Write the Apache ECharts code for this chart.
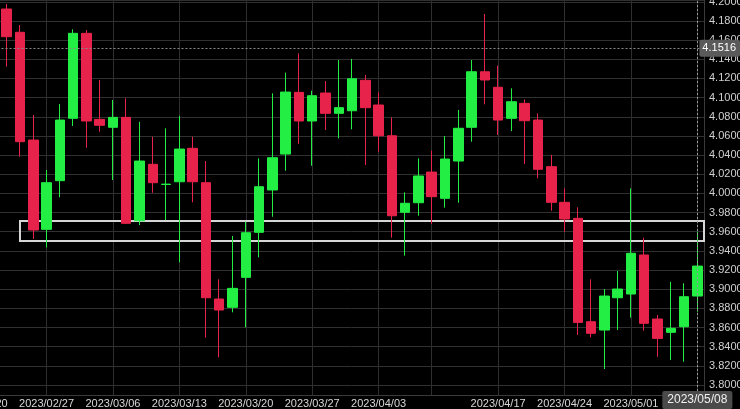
<!DOCTYPE html>
<html>
<head>
<meta charset="utf-8">
<script src="https://cdn.jsdelivr.net/npm/echarts@6/dist/echarts.min.js"></script>
<style>
  html, body { margin: 0; padding: 0; background: #000; }
  #chart { width: 740px; height: 409px; }
</style>
</head>
<body>
<div id="chart"></div>
<script>
// Trading days (categories)
const dates = [
  '2023/02/20','2023/02/21','2023/02/22','2023/02/23','2023/02/24',
  '2023/02/27','2023/02/28','2023/03/01','2023/03/02','2023/03/03',
  '2023/03/06','2023/03/07','2023/03/08','2023/03/09','2023/03/10',
  '2023/03/13','2023/03/14','2023/03/15','2023/03/16','2023/03/17',
  '2023/03/20','2023/03/21','2023/03/22','2023/03/23','2023/03/24',
  '2023/03/27','2023/03/28','2023/03/29','2023/03/30','2023/03/31',
  '2023/04/03','2023/04/04','2023/04/05','2023/04/06',
  '2023/04/10','2023/04/11','2023/04/12','2023/04/13','2023/04/14',
  '2023/04/17','2023/04/18','2023/04/19','2023/04/20','2023/04/21',
  '2023/04/24','2023/04/25','2023/04/26','2023/04/27','2023/04/28',
  '2023/05/01','2023/05/02','2023/05/03','2023/05/04','2023/05/05',
  '2023/05/08'
];
// OHLC values ('-' = out of view / not shown)
const opens = ['-','-',
  4.1925,4.1682,4.0557,
  3.9625,4.0133,4.0784,4.1671,4.0773,
  4.0690,4.0794,3.9715,4.0304,4.0093,
  4.0122,4.0471,4.0112,3.8898,3.8811,
  3.9124,3.9594,4.0036,4.0411,4.1055,
  4.0756,4.1048,4.0836,4.0863,4.1181,
  4.0923,4.0602,3.9803,3.9903,
  4.0223,3.9949,4.0338,4.0690,4.1270,
  4.1108,4.0784,4.0940,4.0766,4.0279,
  3.9907,3.9740,3.8661,3.8574,3.8911,
  3.8950,3.9357,3.8689,3.8550,3.8609,
  3.8929];
const closes = ['-','-',
  4.1636,4.0540,3.9618,
  4.0112,4.0766,4.1671,4.0756,4.0711,
  4.0794,3.9688,4.0338,4.0112,4.0097,
  4.0463,4.0122,3.8911,3.8783,3.9009,
  3.9590,4.0070,4.0373,4.1058,4.0756,
  4.1020,4.0836,4.0895,4.1197,4.0895,
  4.0602,3.9767,3.9897,4.0182,
  3.9966,4.0359,4.0680,4.1270,4.1184,
  4.0766,4.0957,4.0759,4.0252,3.9907,
  3.9733,3.8654,3.8540,3.8929,3.9002,
  3.9375,3.8644,3.8487,3.8592,3.8922,
  3.9242];
const lows = ['-','-',
  4.1323,4.0383,3.9524,
  3.9437,3.9959,4.0704,4.0477,4.0644,
  4.0140,3.9680,3.9670,4.0007,3.9722,
  3.9281,3.9907,3.8494,3.8289,3.8759,
  3.8602,3.9333,3.9757,4.0237,4.0516,
  4.0289,4.0662,4.0575,4.0669,4.0296,
  4.0435,3.9538,3.9350,3.9767,
  3.9681,3.9851,3.9903,4.0540,4.0930,
  4.0610,4.0651,4.0307,4.0158,3.9819,
  3.9600,3.8522,3.8498,3.8167,3.8574,
  3.8703,3.8567,3.8295,3.8261,3.8243,
  3.8765];
const highs = ['-','-',
  4.1977,4.1758,4.0818,
  4.0244,4.0933,4.1713,4.1706,4.1184,
  4.0975,4.0993,4.0748,4.0592,4.0680,
  4.0811,4.0592,4.0338,3.9103,3.9555,
  3.9705,4.0366,4.1045,4.1260,4.1462,
  4.1072,4.1173,4.1392,4.1403,4.1236,
  4.1055,4.0794,4.0011,4.0366,
  4.0446,4.0599,4.0871,4.1392,4.1873,
  4.1333,4.1097,4.0982,4.0836,4.0401,
  4.0053,3.9855,3.9103,3.9002,3.9190,
  4.0053,3.9538,3.8731,3.9078,3.9062,
  3.9600];
// Week starts (grid lines) and the labels that are shown
const weekStarts = ['2023/02/20','2023/02/27','2023/03/06','2023/03/13','2023/03/20',
  '2023/03/27','2023/04/03','2023/04/10','2023/04/17','2023/04/24','2023/05/01','2023/05/08'];
const tickLabels = ['2023/02/20','2023/02/27','2023/03/06','2023/03/13','2023/03/20',
  '2023/03/27','2023/04/03','2023/04/17','2023/04/24','2023/05/01','2023/05/08'];
// Highlighted zone and crosshair
const zoneFrom = '2023/02/23';
const zoneTop = 3.9712;
const zoneBottom = 3.9503;
const crossDate = '2023/05/08';
const crossPrice = 4.1516;

const ohlc = dates.map((d, i) => [opens[i], closes[i], lows[i], highs[i]]);

const UP = '#22ee44';
const DOWN = '#e8234b';

const chart = echarts.init(document.getElementById('chart'));
chart.setOption({
  animation: false,
  backgroundColor: '#000',
  axisPointer: { triggerOn: 'none', link: [] },
  grid: { left: -26.5, right: 36, top: 0, bottom: 14, containLabel: false, outerBoundsMode: 'none' },
  xAxis: {
    type: 'category',
    data: dates,
    boundaryGap: true,
    axisLine: { show: true, lineStyle: { color: '#3a3a3a' } },
    axisTick: { show: false },
    axisLabel: {
      color: '#d8d8d8',
      fontFamily: 'Liberation Sans',
      fontSize: 11,
      margin: 3,
      hideOverlap: false,
      interval: (idx, val) => tickLabels.indexOf(val) >= 0
    },
    splitLine: {
      show: true,
      alignWithLabel: true,
      interval: (idx, val) => weekStarts.indexOf(val) >= 0,
      lineStyle: { color: '#2e2e2e', width: 1 }
    },
    axisPointer: {
      show: true,
      status: 'show',
      value: dates.indexOf(crossDate),
      type: 'line',
      snap: false,
      triggerTooltip: false,
      lineStyle: { color: '#9a9a9a', type: [2, 2], width: 1 },
      label: {
        show: true,
        backgroundColor: '#4a4a4a',
        color: '#f0f0f0',
        fontFamily: 'Liberation Sans',
        fontSize: 12,
        padding: [3, 5, 3, 5],
        margin: -3,
        borderRadius: 2
      }
    }
  },
  yAxis: {
    type: 'value',
    position: 'right',
    scale: true,
    min: 3.7896,
    max: 4.2019,
    splitNumber: 20,
    axisLine: { show: true, lineStyle: { color: '#3a3a3a' } },
    axisTick: { show: false },
    axisLabel: {
      color: '#d0d0d0',
      fontFamily: 'Liberation Sans',
      fontSize: 11,
      margin: 5,
      showMinLabel: false,
      showMaxLabel: false,
      formatter: v => v.toFixed(4)
    },
    splitLine: { show: true, lineStyle: { color: '#303030', width: 1 } },
    axisPointer: {
      show: true,
      status: 'show',
      value: crossPrice,
      type: 'line',
      snap: false,
      triggerTooltip: false,
      lineStyle: { color: '#8a8a8a', type: [2, 2], width: 1 },
      label: {
        show: true,
        backgroundColor: '#5a5a5a',
        color: '#ffffff',
        fontFamily: 'Liberation Sans',
        fontSize: 11,
        padding: [3, 4, 3, 3],
        margin: 0,
        borderRadius: 2,
        formatter: p => Number(p.value).toFixed(4)
      }
    }
  },
  series: [{
    type: 'candlestick',
    data: ohlc,
    barWidth: 10,
    clip: true,
    itemStyle: {
      color: UP,
      color0: DOWN,
      borderColor: UP,
      borderColor0: DOWN,
      borderWidth: 1
    },
    markArea: {
      silent: true,
      itemStyle: { color: 'rgba(0,0,0,0)', borderColor: '#d6d6d6', borderWidth: 2 },
      data: [[
        { xAxis: zoneFrom, yAxis: zoneTop },
        { xAxis: Infinity, yAxis: zoneBottom }
      ]]
    }
  }]
});
</script>
</body>
</html>
